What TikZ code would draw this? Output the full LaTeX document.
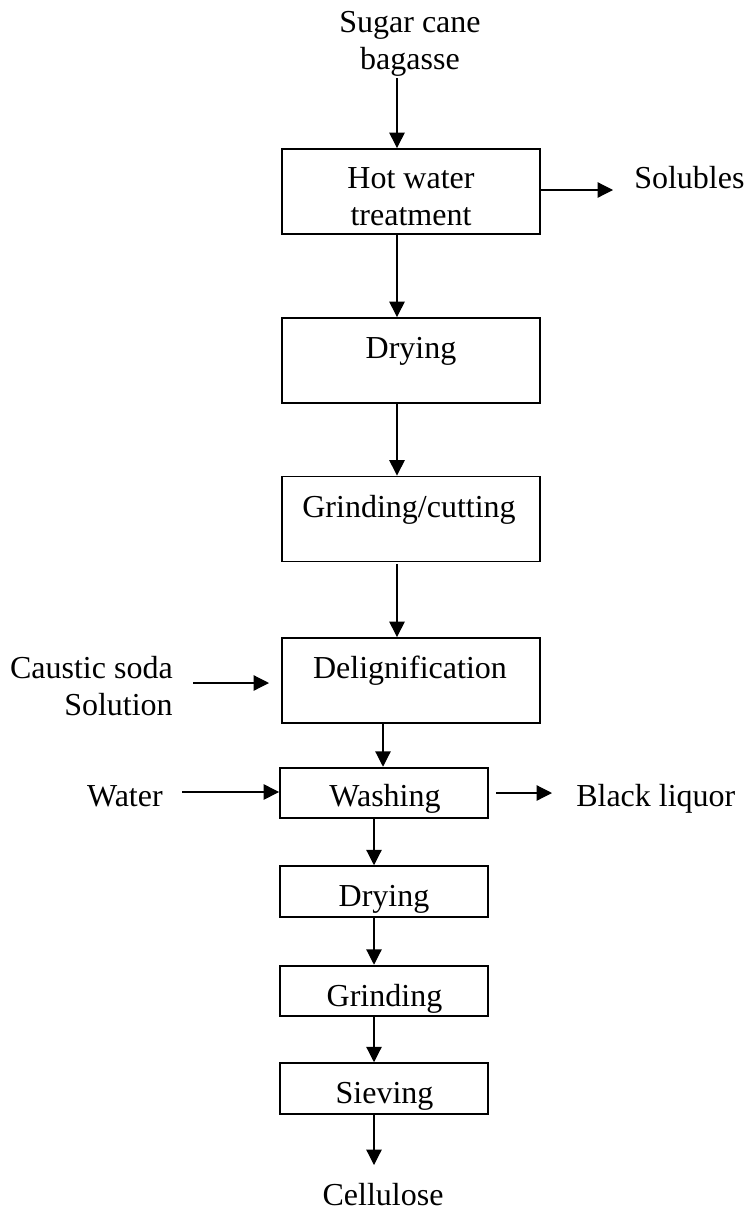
\documentclass[tikz,border=0pt]{standalone}
\usepackage{fontspec}
\setmainfont{Liberation Serif}
\usetikzlibrary{arrows.meta}
\begin{document}
\begin{tikzpicture}[x=0.75pt,y=-0.75pt,
  bigbox/.style={draw,line width=1.4pt,minimum width=193.5pt,minimum height=63.75pt,inner sep=0pt},
  smallbox/.style={draw,line width=1.4pt,minimum width=156pt,minimum height=38pt,inner sep=0pt},
  txt/.style={font=\fontsize{24}{27.75}\selectfont,inner sep=0pt,anchor=base,align=center},
  arr/.style={line width=0.9pt,-{Triangle[length=11.5pt,width=11.5pt]}}]
\useasboundingbox (0,0) rectangle (744,1210);
% boxes
\node[bigbox] (b1) at (411,191.5) {};
\node[bigbox] (b2) at (411,360.5) {};
\node[bigbox] (b3) at (411,519) {};
\node[bigbox] (b4) at (411,680.5) {};
\node[smallbox] (b5) at (384,793) {};
\node[smallbox] (b6) at (384,891.5) {};
\node[smallbox] (b7) at (384,991) {};
\node[smallbox] (b8) at (384,1088.5) {};
% texts (multi-line nodes: base = last line's baseline)
\node[txt] (tin) at (410,69) {Sugar cane\\bagasse};
\node[txt] (t1) at (411,225) {Hot water\\treatment};
\node[txt] (t2) at (411,358) {Drying};
\node[txt] (t3) at (409,517) {Grinding/cutting};
\node[txt] (t4) at (410,678) {Delignification};
\node[txt] (t5) at (385,806) {Washing};
\node[txt] (t6) at (384,906) {Drying};
\node[txt] (t7) at (384.5,1006) {Grinding};
\node[txt] (t8) at (384.5,1103) {Sieving};
\node[txt] (tout) at (383,1205) {Cellulose};
\node[txt,anchor=base west] (tsol) at (634,188) {Solubles};
\node[txt,anchor=base west] (tbl) at (576,806) {Black liquor};
\node[txt,anchor=base east] (tw) at (163,806) {Water};
\node[txt,anchor=base east,align=right] (tcs) at (173,715) {Caustic soda\\Solution};
% free ends
\coordinate (a0) at (397,78);
\coordinate (as) at (613,190);
\coordinate (ac) at (193,683);
\coordinate (ace) at (269,683);
\coordinate (aw) at (182,792);
\coordinate (ab0) at (496,793);
\coordinate (ab1) at (552,793);
\coordinate (ax) at (374,1165);
% connectors
\draw[arr] (a0) -- (a0 |- b1.north);
\draw[arr] (b1.south -| a0) -- (b2.north -| a0);
\draw[arr] (b2.south -| a0) -- (b3.north -| a0);
\draw[arr] ([yshift=-1.5pt]b3.south -| a0) -- (b4.north -| a0);
\draw[arr] (b4.south -| 383,0) -- (b5.north -| 383,0);
\draw[arr] (b5.south -| ax) -- (b6.north -| ax);
\draw[arr] (b6.south -| ax) -- (b7.north -| ax);
\draw[arr] (b7.south -| ax) -- (b8.north -| ax);
\draw[arr] (b8.south -| ax) -- (ax);
\draw[arr] (b1.east |- as) -- (as);
\draw[arr] (ac) -- (ace);
\draw[arr] (aw) -- (aw -| b5.west);
\draw[arr] (ab0) -- (ab1);
\end{tikzpicture}
\end{document}
